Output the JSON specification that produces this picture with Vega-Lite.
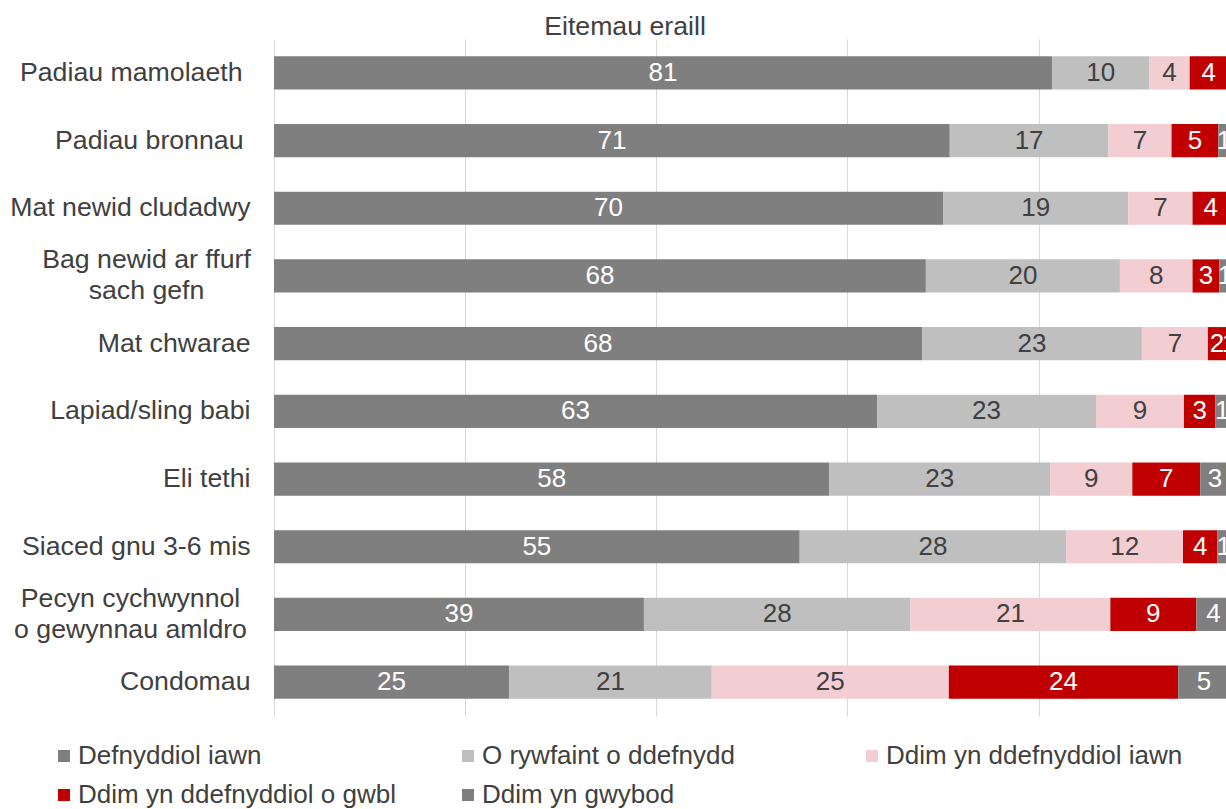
{
  "$schema": "https://vega.github.io/schema/vega-lite/v6.json",
  "width": 952,
  "height": 677,
  "autosize": {"type": "none"},
  "padding": {"left": 274, "top": 39, "right": 0, "bottom": 93},
  "background": "white",
  "title": {
    "text": "Eitemau eraill",
    "font": "Liberation Sans",
    "fontSize": 26.7,
    "fontWeight": "normal",
    "color": "#404040",
    "anchor": "middle",
    "dx": -125,
    "offset": -2
  },
  "data": {
    "values": [
      {"item": "Padiau mamolaeth", "series": "Defnyddiol iawn", "k": 1, "value": 81.4},
      {"item": "Padiau mamolaeth", "series": "O rywfaint o ddefnydd", "k": 2, "value": 10.2},
      {"item": "Padiau mamolaeth", "series": "Ddim yn ddefnyddiol iawn", "k": 3, "value": 4.2},
      {"item": "Padiau mamolaeth", "series": "Ddim yn ddefnyddiol o gwbl", "k": 4, "value": 4.0},

      {"item": "Padiau bronnau", "series": "Defnyddiol iawn", "k": 1, "value": 70.7},
      {"item": "Padiau bronnau", "series": "O rywfaint o ddefnydd", "k": 2, "value": 16.6},
      {"item": "Padiau bronnau", "series": "Ddim yn ddefnyddiol iawn", "k": 3, "value": 6.6},
      {"item": "Padiau bronnau", "series": "Ddim yn ddefnyddiol o gwbl", "k": 4, "value": 4.9},
      {"item": "Padiau bronnau", "series": "Ddim yn gwybod", "k": 5, "value": 1.2},

      {"item": "Mat newid cludadwy", "series": "Defnyddiol iawn", "k": 1, "value": 70.0},
      {"item": "Mat newid cludadwy", "series": "O rywfaint o ddefnydd", "k": 2, "value": 19.4},
      {"item": "Mat newid cludadwy", "series": "Ddim yn ddefnyddiol iawn", "k": 3, "value": 6.7},
      {"item": "Mat newid cludadwy", "series": "Ddim yn ddefnyddiol o gwbl", "k": 4, "value": 3.8},

      {"item": "Bag newid ar ffurf|sach gefn", "series": "Defnyddiol iawn", "k": 1, "value": 68.2},
      {"item": "Bag newid ar ffurf|sach gefn", "series": "O rywfaint o ddefnydd", "k": 2, "value": 20.3},
      {"item": "Bag newid ar ffurf|sach gefn", "series": "Ddim yn ddefnyddiol iawn", "k": 3, "value": 7.6},
      {"item": "Bag newid ar ffurf|sach gefn", "series": "Ddim yn ddefnyddiol o gwbl", "k": 4, "value": 2.8},
      {"item": "Bag newid ar ffurf|sach gefn", "series": "Ddim yn gwybod", "k": 5, "value": 1.2},

      {"item": "Mat chwarae", "series": "Defnyddiol iawn", "k": 1, "value": 67.8},
      {"item": "Mat chwarae", "series": "O rywfaint o ddefnydd", "k": 2, "value": 23.0},
      {"item": "Mat chwarae", "series": "Ddim yn ddefnyddiol iawn", "k": 3, "value": 6.9},
      {"item": "Mat chwarae", "series": "Ddim yn ddefnyddiol o gwbl", "k": 4, "value": 1.9},
      {"item": "Mat chwarae", "series": "Ddim yn gwybod", "k": 5, "value": 0.6},

      {"item": "Lapiad/sling babi", "series": "Defnyddiol iawn", "k": 1, "value": 63.1},
      {"item": "Lapiad/sling babi", "series": "O rywfaint o ddefnydd", "k": 2, "value": 22.9},
      {"item": "Lapiad/sling babi", "series": "Ddim yn ddefnyddiol iawn", "k": 3, "value": 9.2},
      {"item": "Lapiad/sling babi", "series": "Ddim yn ddefnyddiol o gwbl", "k": 4, "value": 3.3},
      {"item": "Lapiad/sling babi", "series": "Ddim yn gwybod", "k": 5, "value": 1.4},

      {"item": "Eli tethi", "series": "Defnyddiol iawn", "k": 1, "value": 58.1},
      {"item": "Eli tethi", "series": "O rywfaint o ddefnydd", "k": 2, "value": 23.1},
      {"item": "Eli tethi", "series": "Ddim yn ddefnyddiol iawn", "k": 3, "value": 8.6},
      {"item": "Eli tethi", "series": "Ddim yn ddefnyddiol o gwbl", "k": 4, "value": 7.1},
      {"item": "Eli tethi", "series": "Ddim yn gwybod", "k": 5, "value": 3.1},

      {"item": "Siaced gnu 3-6 mis", "series": "Defnyddiol iawn", "k": 1, "value": 55.0},
      {"item": "Siaced gnu 3-6 mis", "series": "O rywfaint o ddefnydd", "k": 2, "value": 27.9},
      {"item": "Siaced gnu 3-6 mis", "series": "Ddim yn ddefnyddiol iawn", "k": 3, "value": 12.2},
      {"item": "Siaced gnu 3-6 mis", "series": "Ddim yn ddefnyddiol o gwbl", "k": 4, "value": 3.6},
      {"item": "Siaced gnu 3-6 mis", "series": "Ddim yn gwybod", "k": 5, "value": 1.3},

      {"item": "Pecyn cychwynnol|o gewynnau amldro", "series": "Defnyddiol iawn", "k": 1, "value": 38.7},
      {"item": "Pecyn cychwynnol|o gewynnau amldro", "series": "O rywfaint o ddefnydd", "k": 2, "value": 27.9},
      {"item": "Pecyn cychwynnol|o gewynnau amldro", "series": "Ddim yn ddefnyddiol iawn", "k": 3, "value": 20.9},
      {"item": "Pecyn cychwynnol|o gewynnau amldro", "series": "Ddim yn ddefnyddiol o gwbl", "k": 4, "value": 9.0},
      {"item": "Pecyn cychwynnol|o gewynnau amldro", "series": "Ddim yn gwybod", "k": 5, "value": 3.6},

      {"item": "Condomau", "series": "Defnyddiol iawn", "k": 1, "value": 24.6},
      {"item": "Condomau", "series": "O rywfaint o ddefnydd", "k": 2, "value": 21.2},
      {"item": "Condomau", "series": "Ddim yn ddefnyddiol iawn", "k": 3, "value": 24.8},
      {"item": "Condomau", "series": "Ddim yn ddefnyddiol o gwbl", "k": 4, "value": 24.0},
      {"item": "Condomau", "series": "Ddim yn gwybod", "k": 5, "value": 5.4}
    ]
  },
  "transform": [
    {"stack": "value", "groupby": ["item"], "sort": [{"field": "k", "order": "ascending"}], "as": ["v0", "v1"]},
    {"calculate": "(datum.v0 + datum.v1) / 2", "as": "vmid"}
  ],
  "encoding": {
    "y": {
      "field": "item",
      "type": "nominal",
      "sort": null,
      "scale": {"paddingInner": 0.51, "paddingOuter": 0.255},
      "axis": {
        "title": null,
        "domain": false,
        "ticks": false,
        "labelFont": "Liberation Sans",
        "labelFontSize": 26.7,
        "labelColor": "#404040",
        "labelLimit": 400,
        "labelLineHeight": 31,
        "labelBaseline": "middle",
        "labelExpr": "split(datum.label, '|')",
        "labelAlign": {
          "condition": {"test": "indexof(datum.value, '|') >= 0", "value": "center"},
          "value": "right"
        },
        "labelOffset": {
          "condition": {"test": "indexof(datum.value, '|') >= 0", "value": -15.5},
          "value": 0
        },
        "labelPadding": {
          "condition": [
            {"test": "datum.value === 'Bag newid ar ffurf|sach gefn'", "value": 128},
            {"test": "datum.value === 'Pecyn cychwynnol|o gewynnau amldro'", "value": 144},
            {"test": "datum.value === 'Padiau mamolaeth'", "value": 32},
            {"test": "datum.value === 'Padiau bronnau'", "value": 31}
          ],
          "value": 24
        }
      }
    }
  },
  "layer": [
    {
      "mark": {"type": "bar"},
      "encoding": {
        "x": {
          "field": "v0",
          "type": "quantitative",
          "scale": {"domain": [0, 99.6], "nice": false, "zero": true},
          "axis": {
            "values": [0, 20, 40, 60, 80],
            "labels": false,
            "ticks": false,
            "domain": false,
            "grid": true,
            "gridColor": "#d9d9d9",
            "gridWidth": 1,
            "title": null
          }
        },
        "x2": {"field": "v1"},
        "color": {
          "field": "series",
          "type": "nominal",
          "scale": {
            "domain": ["Defnyddiol iawn", "O rywfaint o ddefnydd", "Ddim yn ddefnyddiol iawn", "Ddim yn ddefnyddiol o gwbl", "Ddim yn gwybod"],
            "range": ["#7f7f7f", "#bfbfbf", "#f2ced3", "#c00000", "#7f7f7f"]
          },
          "legend": {
            "title": null,
            "orient": "none",
            "legendX": -223,
            "legendY": 704,
            "direction": "horizontal",
            "columns": 3,
            "gridAlign": "all",
            "columnPadding": 59,
            "rowPadding": 13,
            "symbolType": "square",
            "symbolSize": 144,
            "symbolStrokeWidth": 0,
            "labelFont": "Liberation Sans",
            "labelFontSize": 26,
            "labelColor": "#404040",
            "labelOffset": 1,
            "labelLimit": 600,
            "padding": 0
          }
        }
      }
    },
    {
      "mark": {"type": "text", "font": "Liberation Sans", "fontSize": 26, "baseline": "middle", "align": "center"},
      "encoding": {
        "x": {"field": "vmid", "type": "quantitative"},
        "text": {"field": "value", "type": "quantitative", "format": ".0f"},
        "color": {
          "condition": {"test": "datum.series === 'O rywfaint o ddefnydd' || datum.series === 'Ddim yn ddefnyddiol iawn'", "value": "#404040"},
          "value": "#ffffff"
        }
      }
    }
  ],
  "config": {
    "view": {"stroke": null},
    "font": "Liberation Sans"
  }
}
